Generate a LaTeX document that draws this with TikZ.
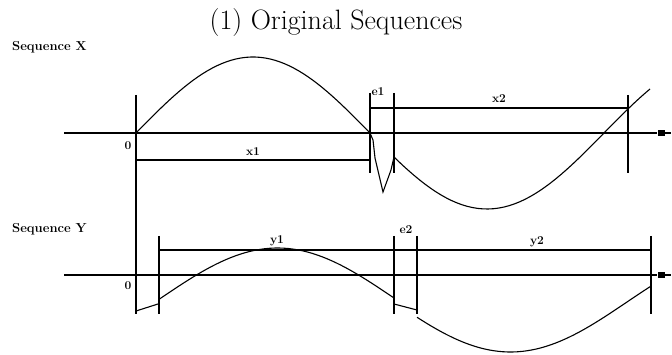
\documentclass[tikz,border=0pt]{standalone}
\usetikzlibrary{positioning}

\begin{document}
\begin{tikzpicture}[
  x=1pt, y=-1pt,
  axis/.style={line width=1.6pt},
  dim/.style={line width=1.5pt},
  wave/.style={line width=1.1pt},
  lbl/.style={font=\fontsize{12}{13}\selectfont\bfseries, inner sep=0pt},
  seqlbl/.style={font=\fontsize{13}{15}\selectfont\bfseries, inner sep=0pt, anchor=west},
  endmark/.style={fill=black, minimum width=7pt, minimum height=6pt, inner sep=0pt}
]
\useasboundingbox (0,0) rectangle (672,355);
\node[font=\fontsize{28}{32}\selectfont] (title) at (336,23) {(1) Original Sequences};

% sequence X
\node[seqlbl] (seqx) at (12,47) {Sequence X};
\coordinate (xa) at (64,133);
\node[endmark] (xend) at (661,133) {};
\draw[axis] (xa) -- (xend.west) (xend.east) -- ++(6,0);
\node[lbl] (xzero) at (128,146) {0};
\draw[dim] (136,95) -- (136,314);
\draw[dim] (370,93) -- (370,173);
\draw[dim] (394,93) -- (394,173);
\draw[dim] (628,95) -- (628,173);
\draw[dim] (136,160) -- node[lbl, above=4pt] (xone) {x1} (370,160);
\draw[dim] (370,108) -- node[lbl, above=5pt] (xtwo) {x2} (628,108);
\node[lbl, fill=white] (eone) at (378,92) {e1};
\draw[wave] plot[domain=136:370, samples=50] (\x, {133-76*sin((\x-136)/468*360)});
\draw[wave] (370,133) -- (373,140) -- (375,158) -- (383,192) -- (391,170) -- (394,157);
\draw[wave] plot[domain=394:650, samples=50] (\x, {133-76*sin((\x-136)/468*360)});

% sequence Y
\node[seqlbl] (seqy) at (12,229) {Sequence Y};
\coordinate (ya) at (64,275);
\node[endmark] (yend) at (661,275) {};
\draw[axis] (ya) -- (yend.west) (yend.east) -- ++(6,0);
\node[lbl] (yzero) at (128,286) {0};
\draw[dim] (159,236) -- (159,314);
\draw[dim] (394,236) -- (394,314);
\draw[dim] (417,236) -- (417,314);
\draw[dim] (651,236) -- (651,314);
\draw[dim] (159,250) -- (651,250);
\node[lbl] (yone) at (277,241) {y1};
\node[lbl] (ytwo) at (537,242) {y2};
\node[lbl, fill=white] (etwo) at (406,230) {e2};
\draw[wave] (136,311) -- (158,304);
\draw[wave] plot[domain=159:394, samples=50] (\x, {298-50*sin((\x-161)/466*360)});
\draw[wave] (394,304) -- (417,310);
\draw[wave] plot[domain=417:651, samples=50] (\x, {302-50*sin((\x-161)/466*360)});
\end{tikzpicture}
\end{document}
